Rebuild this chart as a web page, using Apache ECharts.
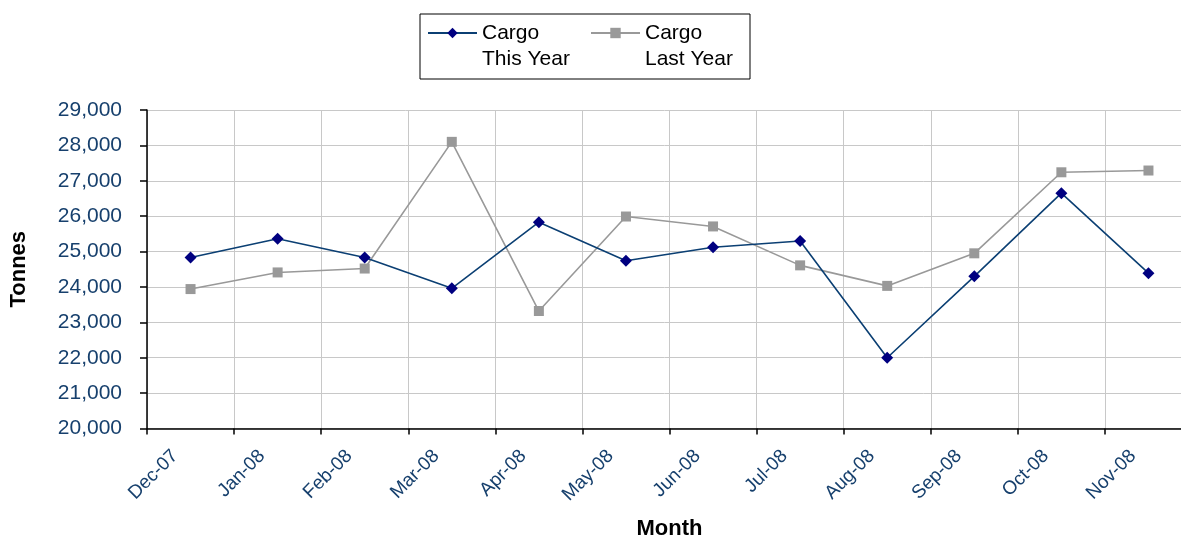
<!DOCTYPE html>
<html>
<head>
<meta charset="utf-8">
<script src="https://cdn.jsdelivr.net/npm/echarts@6/dist/echarts.min.js"></script>
<style>
  html, body { margin: 0; padding: 0; background: #fff; }
  #chart { width: 1181px; height: 535px; }
</style>
</head>
<body>
<div id="chart"></div>
<script>
const categories = ['Dec-07', 'Jan-08', 'Feb-08', 'Mar-08', 'Apr-08', 'May-08', 'Jun-08', 'Jul-08', 'Aug-08', 'Sep-08', 'Oct-08', 'Nov-08'];
const thisYear = [24830, 25360, 24830, 23960, 25830, 24740, 25120, 25300, 22000, 24300, 26650, 24390];
const lastYear = [23940, 24410, 24520, 28100, 23320, 25990, 25710, 24610, 24030, 24950, 27240, 27290];
const seriesNames = ['Cargo\nThis Year', 'Cargo\nLast Year'];
const yMin = 20000, yMax = 29000, yStep = 1000;

const FONT = "'Liberation Sans', Arial, sans-serif";
const LABEL_BLUE = '#17406D';

const chart = echarts.init(document.getElementById('chart'), null, { renderer: 'canvas' });

const legendText = { fontFamily: FONT, fontSize: 21, lineHeight: 27, width: 100, color: '#000' };

chart.setOption({
  animation: false,
  backgroundColor: '#fff',
  legend: [
    {
      data: seriesNames,
      left: 420, top: 14,
      orient: 'horizontal',
      padding: [5.5, 5, 32.5, 7],
      itemGap: 8, itemWidth: 49, itemHeight: 13,
      borderColor: '#000', borderWidth: 1, backgroundColor: '#fff',
      selectedMode: false,
      textStyle: legendText,
      formatter: n => n.split('\n')[0]
    },
    {
      data: seriesNames,
      left: 420, top: 46,
      orient: 'horizontal',
      padding: [0, 5, 0, 7],
      itemGap: 8, itemWidth: 49, itemHeight: 13,
      selectedMode: false,
      itemStyle: { opacity: 0 },
      lineStyle: { opacity: 0 },
      textStyle: legendText,
      formatter: n => n.split('\n')[1]
    }
  ],
  grid: { left: 147, top: 110, width: 1045, height: 318.5, containLabel: false, outerBoundsMode: 'none' },
  xAxis: {
    type: 'category',
    data: categories,
    boundaryGap: true,
    name: 'Month',
    nameLocation: 'middle',
    nameGap: 89,
    nameTextStyle: { fontFamily: FONT, fontSize: 22, fontWeight: 'bold', color: '#000' },
    axisLine: { show: true, lineStyle: { color: '#000', width: 1.5 } },
    axisTick: { show: true, length: 6, interval: 0, lineStyle: { color: '#000', width: 1.5 } },
    axisLabel: {
      interval: 0, rotate: 45, margin: 9,
      padding: [0, 22, 0, 0],
      fontFamily: FONT, fontSize: 19, color: LABEL_BLUE
    },
    splitLine: { show: true, interval: 0, lineStyle: { color: '#C8C8C8', width: 1 } }
  },
  yAxis: {
    type: 'value',
    min: yMin, max: yMax, interval: yStep,
    name: 'Tonnes',
    nameLocation: 'middle',
    nameRotate: 90,
    nameGap: 117,
    nameTextStyle: { fontFamily: FONT, fontSize: 22, fontWeight: 'bold', color: '#000' },
    axisLine: { show: true, lineStyle: { color: '#000', width: 1.5 } },
    axisTick: { show: true, length: 7, lineStyle: { color: '#000', width: 1.5 } },
    axisLabel: {
      margin: 25,
      fontFamily: FONT, fontSize: 21, color: LABEL_BLUE,
      formatter: v => v.toLocaleString('en-US')
    },
    splitLine: { show: true, lineStyle: { color: '#C8C8C8', width: 1 } }
  },
  series: [
    {
      name: seriesNames[0],
      type: 'line',
      data: thisYear,
      symbol: 'diamond',
      symbolSize: 12,
      showAllSymbol: true,
      lineStyle: { color: '#0B3F73', width: 1.6 },
      itemStyle: { color: '#000080' },
      z: 3
    },
    {
      name: seriesNames[1],
      type: 'line',
      data: lastYear,
      symbol: 'rect',
      symbolSize: 10,
      showAllSymbol: true,
      lineStyle: { color: '#999999', width: 1.6 },
      itemStyle: { color: '#999999' },
      z: 2
    }
  ]
});
</script>
</body>
</html>
